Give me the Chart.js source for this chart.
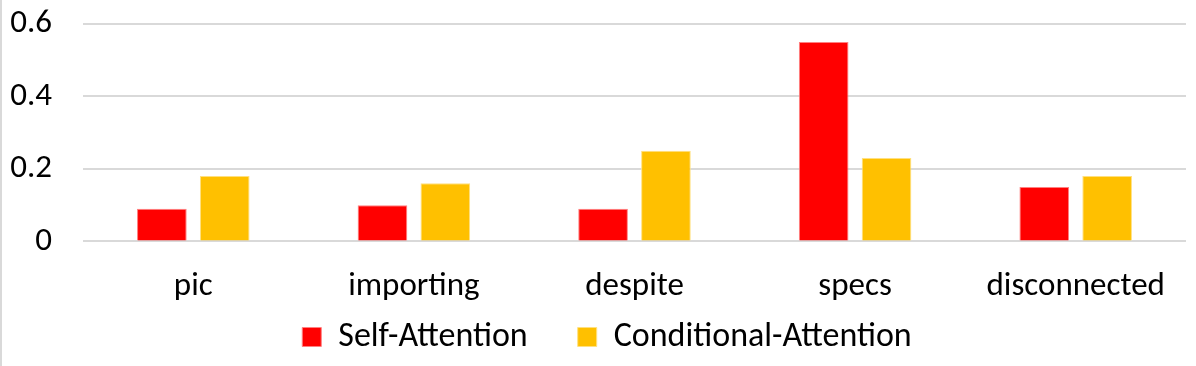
<!DOCTYPE html>
<html>
<head>
<meta charset="utf-8">
<script src="https://cdn.jsdelivr.net/npm/chart.js@4"></script>
<style>
  html, body { margin: 0; padding: 0; background: #fff; }
  #wrap { position: relative; width: 1196px; height: 366px; overflow: hidden; box-sizing: border-box; border-left: 2px solid #d9d9d9; }
  canvas { display: block; margin-top: -27px; }
</style>
</head>
<body>
<div id="wrap"><canvas id="c" width="1194" height="393"></canvas></div>
<script>
const categories = ["pic", "importing", "despite", "specs", "disconnected"];
const selfAttention = [0.09, 0.10, 0.09, 0.55, 0.15];
const conditionalAttention = [0.18, 0.16, 0.25, 0.23, 0.18];
const yTicks = [0, 0.2, 0.4, 0.6];

const FONT = "Carlito, Calibri, Lato, 'Open Sans', sans-serif";

// move the legend closer to the axis labels (Chart.js ties its gap to item padding)
const legendShift = {
  id: 'legendShift',
  afterLayout(chart) {
    const lg = chart.legend;
    if (lg) { lg.top -= 63; lg.bottom -= 63; lg.left += 13; lg.right += 13; }
  }
};

new Chart(document.getElementById('c'), {
  type: 'bar',
  data: {
    labels: categories,
    datasets: [
      { label: 'Self-Attention', data: selfAttention, backgroundColor: '#FF0000', borderColor: '#FF8080', borderWidth: 1, categoryPercentage: 0.57, barPercentage: 0.79 },
      { label: 'Conditional-Attention', data: conditionalAttention, backgroundColor: '#FFC000', borderColor: '#FFE080', borderWidth: 1, categoryPercentage: 0.57, barPercentage: 0.79 }
    ]
  },
  plugins: [legendShift],
  options: {
    responsive: false,
    animation: false,
    devicePixelRatio: 1,
    layout: { padding: { left: 0, right: 10, top: 0, bottom: -61 } },
    plugins: {
      legend: {
        position: 'bottom',
        labels: {
          font: { family: FONT, size: 34 },
          color: '#000',
          boxWidth: 19,
          boxHeight: 19,
          padding: 50
        }
      },
      tooltip: { enabled: false }
    },
    scales: {
      x: {
        grid: { display: false, drawTicks: false },
        border: { display: false },
        ticks: { font: { family: FONT, size: 33 }, color: '#000', padding: 26 }
      },
      y: {
        min: 0,
        max: 0.6,
        afterBuildTicks: (axis) => { axis.ticks = yTicks.map(v => ({ value: v })); },
        afterFit: (axis) => { axis.width = 81; },
        grid: { color: '#d9d9d9', lineWidth: 2, drawTicks: false },
        border: { display: false },
        ticks: {
          font: { family: FONT, size: 33 },
          color: '#000',
          padding: 31,
          callback: (v) => String(v)
        }
      }
    }
  }
});
</script>
</body>
</html>
